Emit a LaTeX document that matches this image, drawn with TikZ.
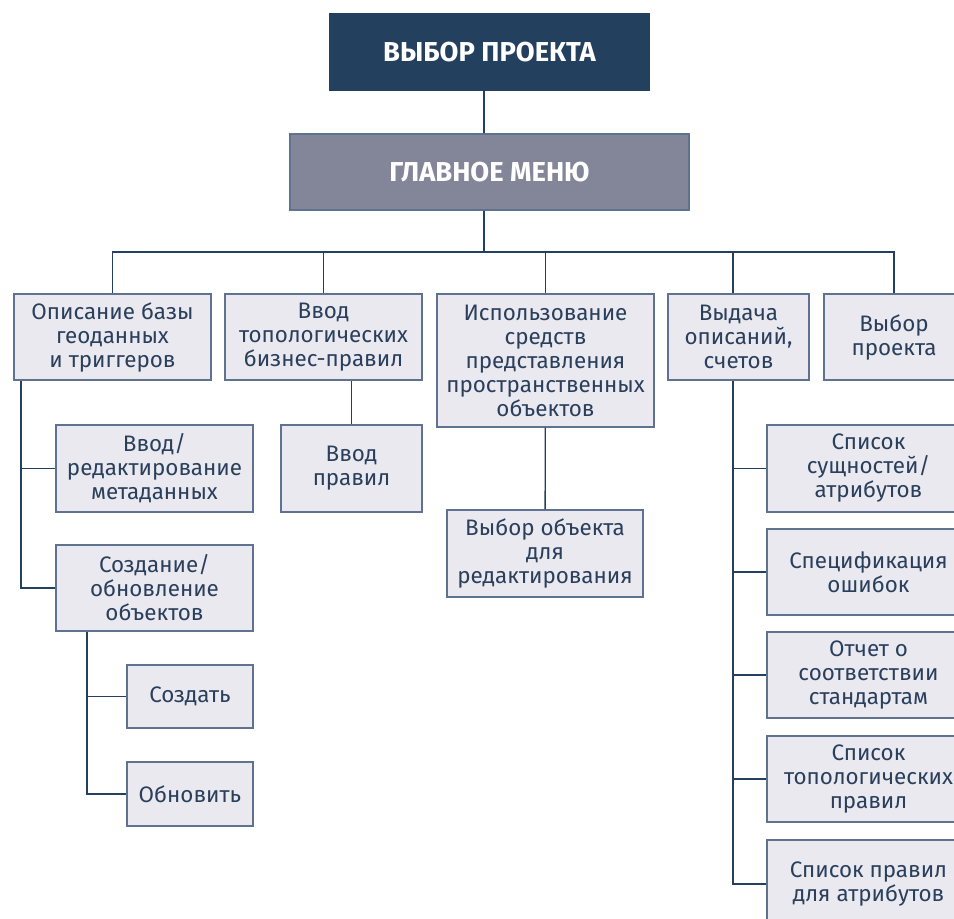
\documentclass[tikz,border=0pt]{standalone}
\usepackage{fontspec}
\setmainfont{Fira Sans}
\usetikzlibrary{calc}

\definecolor{navy}{HTML}{24405F}
\definecolor{menugray}{HTML}{838699}
\definecolor{boxfill}{HTML}{E9E9EF}
\definecolor{boxline}{HTML}{5F7290}
\definecolor{ink}{HTML}{2A3F5C}

\begin{document}
\begin{tikzpicture}[x=0.75pt,y=-0.75pt,
  box/.style={draw=boxline,line width=1pt,fill=boxfill,text=ink,align=center,inner sep=0pt,
    font=\fontsize{16.8}{18}\selectfont},
  head/.style={draw=boxline,line width=1pt,align=center,text=white,minimum height=57pt,
    font=\fontsize{20.5}{22}\selectfont\bfseries},
  link/.style={draw=navy,line width=1pt}]
  \useasboundingbox (0,0) rectangle (954,919);

  \node[head,fill=navy,draw=navy,minimum width=239.25pt] (vybor) at (489.5,52) {ВЫБОР ПРОЕКТА};
  \node[head,fill=menugray,minimum width=299.25pt] (menu) at (489.5,172) {ГЛАВНОЕ МЕНЮ};

  \node[box,minimum width=147.75pt,minimum height=64.5pt] (opis) at (112.5,337) {Описание базы\\геоданных\\и триггеров};
  \node[box,minimum width=147.75pt,minimum height=64.5pt] (vvod) at (323.5,337) {Ввод\\топологических\\бизнес-правил};
  \node[box,minimum width=162.75pt,minimum height=99.75pt] (ispol) at (545.5,360.5) {Использование\\средств\\представления\\пространственных\\объектов};
  \node[box,minimum width=105.75pt,minimum height=64.5pt] (vydacha) at (738.5,337) {Выдача\\описаний,\\счетов};
  \node[box,minimum width=105pt,minimum height=64.5pt] (proekt) at (894,337) {Выбор\\проекта};

  \node[box,minimum width=147.75pt,minimum height=65.25pt] (meta) at (154.5,468.5) {Ввод/\\редактирование\\метаданных};
  \node[box,minimum width=147.75pt,minimum height=64.5pt] (sozdanie) at (154.5,588) {Создание/\\обновление\\объектов};
  \node[box,minimum width=94.5pt,minimum height=47.25pt] (sozdat) at (190,696.5) {Создать};
  \node[box,minimum width=94.5pt,minimum height=48pt] (obnovit) at (190,794) {Обновить};

  \node[box,minimum width=105.75pt,minimum height=65.25pt] (pravil) at (351.5,468.5) {Ввод\\правил};
  \node[box,minimum width=147pt,minimum height=65.25pt] (vybobj) at (545,553.5) {Выбор объекта\\для\\редактирования};

  \node[box,minimum width=152.25pt,minimum height=65.25pt] (sushch) at (868.5,468.5) {Список\\сущностей/\\атрибутов};
  \node[box,minimum width=152.25pt,minimum height=64.5pt] (oshib) at (868.5,572) {Спецификация\\ошибок};
  \node[box,minimum width=152.25pt,minimum height=64.5pt] (otchet) at (868.5,675) {Отчет о\\соответствии\\стандартам};
  \node[box,minimum width=152.25pt,minimum height=64.5pt] (topol) at (868.5,779) {Список\\топологических\\правил};
  \node[box,minimum width=152.25pt,minimum height=66pt] (atrib) at (868.5,884) {Список правил\\для атрибутов};

  \coordinate (bus) at (0,252);
  \coordinate (mx) at (484,0);
  \coordinate (ax) at (21,0);
  \coordinate (bx) at (87,0);
  \coordinate (dx) at (733,0);

  \draw[link] (mx |- vybor.south) -- (mx |- menu.north);
  \draw[link] (mx |- menu.south) -- (mx |- bus);
  \draw[link] (opis.north) |- (proekt.north |- bus) -- (proekt.north);
  \draw[link] (vvod.north) -- (vvod.north |- bus);
  \draw[link] (ispol.north) -- (ispol.north |- bus);
  \draw[link] (dx |- bus) -- (dx |- vydacha.north);

  \draw[link] (ax |- opis.south) |- (sozdanie.west);
  \draw[link] (ax |- meta.west) -- (meta.west);
  \draw[link] (bx |- sozdanie.south) |- (obnovit.west);
  \draw[link] (bx |- sozdat.west) -- (sozdat.west);

  \draw[link] (pravil.north) -- (pravil.north |- vvod.south);
  \draw[link] (ispol) -- (vybobj);

  \draw[link] (dx |- vydacha.south) |- (atrib.west);
  \foreach \n in {sushch,oshib,otchet,topol}
    \draw[link] (dx |- \n.west) -- (\n.west);
\end{tikzpicture}
\end{document}
